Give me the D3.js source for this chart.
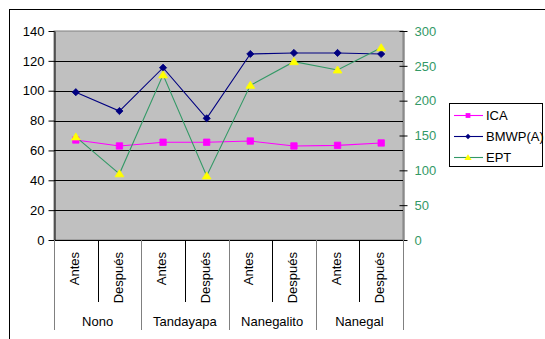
<!DOCTYPE html>
<html>
<head>
<meta charset="utf-8">
<script src="https://cdn.jsdelivr.net/npm/d3@7/dist/d3.min.js"></script>
<style>
  html, body { margin: 0; padding: 0; background: #fff; }
  svg { display: block; font-family: "Liberation Sans", Arial, sans-serif; }
</style>
</head>
<body>
<svg id="chart" width="545" height="339"></svg>
<script>
// Sampling sites and periods
const sites = ["Nono", "Tandayapa", "Nanegalito", "Nanegal"];
const periods = ["Antes", "Después"];

// Index values per site/period (left axis: ICA, BMWP(A); right axis: EPT)
const ica  = [67, 63, 65.5, 65.5, 66.3, 63, 63.4, 65];
const bmwp = [99, 86.4, 115.4, 81.5, 124.6, 125.3, 125.3, 124.6];
const ept  = [148, 95, 237, 92, 222, 256, 244, 276];

const leftTicks  = [0, 20, 40, 60, 80, 100, 120, 140];
const rightTicks = [0, 50, 100, 150, 200, 250, 300];
const legendNames = ["ICA", "BMWP(A)", "EPT"];

const points = [];
sites.forEach(s => periods.forEach(p => points.push({ site: s, period: p })));

const svg = d3.select("#chart");
const plot = { left: 54, right: 403, top: 31, bottom: 240 };
const FS = 13;

const x = d3.scaleBand().domain(d3.range(points.length)).range([plot.left, plot.right]).padding(0);
const yL = d3.scaleLinear().domain([0, 140]).range([plot.bottom, plot.top]);
const yR = d3.scaleLinear().domain([0, 300]).range([plot.bottom, plot.top]);
const cx = i => x(i) + x.bandwidth() / 2;

// Outer chart frame
svg.append("rect").attr("x", 9.5).attr("y", 9.5).attr("width", 560).attr("height", 360)
  .attr("fill", "#fff").attr("stroke", "#000").attr("stroke-width", 1);

// Plot background
svg.append("rect").attr("x", plot.left).attr("y", plot.top)
  .attr("width", plot.right - plot.left).attr("height", plot.bottom - plot.top)
  .attr("fill", "#c0c0c0").attr("stroke", "#808080").attr("stroke-width", 1);

// Horizontal gridlines
svg.append("g").selectAll("line").data(leftTicks.filter(t => t > 0 && t < 140)).join("line")
  .attr("x1", plot.left).attr("x2", plot.right)
  .attr("y1", d => Math.round(yL(d)) + 0.5).attr("y2", d => Math.round(yL(d)) + 0.5)
  .attr("stroke", "#000").attr("stroke-width", 1);

// Left axis
const axL = svg.append("g").attr("transform", `translate(${plot.left + 0.5},0)`)
  .call(d3.axisLeft(yL).tickValues(leftTicks).tickSize(6).tickPadding(4).tickSizeOuter(0));
axL.select(".domain").attr("stroke", "#000");
axL.selectAll(".tick line").attr("stroke", "#000");
axL.selectAll(".tick text").attr("font-size", FS).attr("fill", "#000")
  .attr("font-family", "Liberation Sans, Arial, sans-serif");

// Right axis (ticks cross the axis line)
const axR = svg.append("g").attr("transform", `translate(${plot.right + 0.5},0)`)
  .call(d3.axisRight(yR).tickValues(rightTicks).tickSize(4).tickPadding(7).tickSizeOuter(0));
axR.select(".domain").attr("stroke", "#555");
axR.selectAll(".tick line").attr("x1", -4).attr("x2", 4).attr("stroke", "#000");
axR.selectAll(".tick text").attr("font-size", FS).attr("fill", "#339966")
  .attr("font-family", "Liberation Sans, Arial, sans-serif");

// Category axis baseline
svg.append("line").attr("x1", plot.left).attr("x2", plot.right)
  .attr("y1", plot.bottom + 0.5).attr("y2", plot.bottom + 0.5).attr("stroke", "#000");

// Multi-level category dividers
const cat = svg.append("g");
points.forEach((d, i) => {
  if (i % 2 === 1) {
    const xx = Math.round(x(i)) + 0.5;
    cat.append("line").attr("x1", xx).attr("x2", xx).attr("y1", plot.bottom).attr("y2", 302)
      .attr("stroke", "#000");
  }
});
for (let g = 0; g <= sites.length; g++) {
  const xx = Math.round(g < sites.length ? x(g * 2) : plot.right) + 0.5;
  cat.append("line").attr("x1", xx).attr("x2", xx).attr("y1", plot.bottom).attr("y2", 330)
    .attr("stroke", "#808080");
}

// Period labels (rotated)
cat.selectAll("text.period").data(points).join("text").attr("class", "period")
  .attr("transform", (d, i) => `translate(${cx(i) - 1.5},252) rotate(-90)`)
  .attr("text-anchor", "end").attr("dy", "0.35em")
  .attr("font-size", FS).attr("fill", "#000").text(d => d.period);

// Site labels
cat.selectAll("text.site").data(sites).join("text").attr("class", "site")
  .attr("x", (d, g) => (x(g * 2) + x(g * 2 + 1) + x.bandwidth()) / 2)
  .attr("y", 326).attr("text-anchor", "middle")
  .attr("font-size", FS).attr("fill", "#000").text(d => d);

// Marker shapes
const squarePath = s => `M${-s},${-s}H${s}V${s}H${-s}Z`;
const diamondPath = s => `M0,${-s}L${s},0L0,${s}L${-s},0Z`;
const trianglePath = s => `M0,${-s}L${s * 1.1},${s * 0.75}L${-s * 1.1},${s * 0.75}Z`;

function drawSeries(values, yScale, lineColor, shape, fill) {
  const g = svg.append("g");
  g.append("path").datum(values)
    .attr("d", d3.line().x((d, i) => cx(i)).y(d => yScale(d)))
    .attr("fill", "none").attr("stroke", lineColor).attr("stroke-width", 1.1);
  g.selectAll("path.m").data(values).join("path").attr("class", "m")
    .attr("transform", (d, i) => `translate(${cx(i)},${yScale(d)})`)
    .attr("d", shape).attr("fill", fill).attr("stroke", fill).attr("stroke-width", 0.8)
    .attr("stroke-linejoin", "round");
}

drawSeries(ica, yL, "#ff00ff", squarePath(3.2), "#ff00ff");
drawSeries(bmwp, yL, "#000080", diamondPath(3.6), "#000080");
drawSeries(ept, yR, "#339966", trianglePath(4), "#ffff00");

// Legend
const lg = svg.append("g");
lg.append("rect").attr("x", 449.5).attr("y", 103.5).attr("width", 93).attr("height", 63)
  .attr("fill", "#fff").attr("stroke", "#000");
const legendStyle = [
  { line: "#ff00ff", shape: squarePath(2.4), fill: "#ff00ff" },
  { line: "#000080", shape: diamondPath(2.8), fill: "#000080" },
  { line: "#339966", shape: trianglePath(3.3), fill: "#ffff00" }
];
legendNames.forEach((name, k) => {
  const yy = 115.5 + k * 21;
  lg.append("line").attr("x1", 454).attr("x2", 483).attr("y1", yy).attr("y2", yy)
    .attr("stroke", legendStyle[k].line).attr("stroke-width", 1.1);
  lg.append("path").attr("transform", `translate(468,${yy})`).attr("d", legendStyle[k].shape)
    .attr("fill", legendStyle[k].fill);
  lg.append("text").attr("x", 486).attr("y", yy).attr("dy", "0.36em")
    .attr("font-size", FS).attr("fill", "#000").text(name);
});
</script>
</body>
</html>
